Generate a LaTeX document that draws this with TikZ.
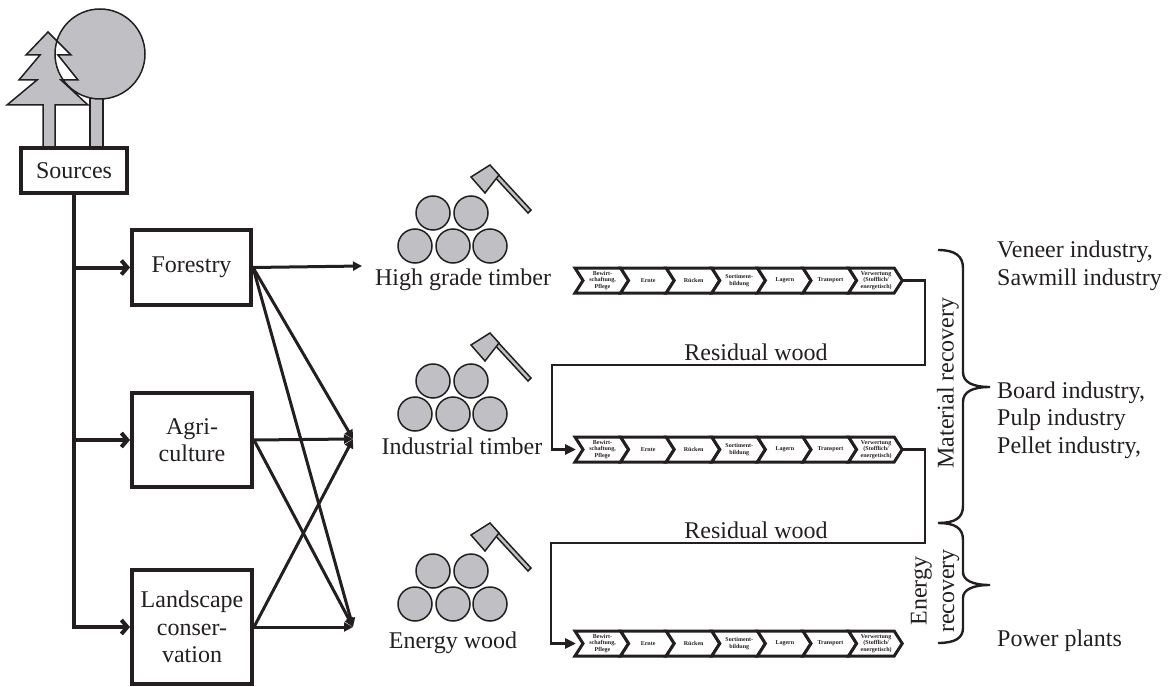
\documentclass[tikz,border=0pt]{standalone}
\usepackage{fontspec}
\setmainfont{Liberation Serif}
\usetikzlibrary{arrows.meta,calc}
\definecolor{ink}{RGB}{35,31,32}
\definecolor{wood}{RGB}{192,192,196}
\newcommand\woodpile[1]{%
  \filldraw[logfill] (433,#1) circle[radius=17] (471,#1) circle[radius=17]
    (415,#1+33) circle[radius=17] (453,#1+33) circle[radius=17] (490,#1+33) circle[radius=17];
  \filldraw[logfill] (492,#1-39) -- (495,#1-42) -- (531,#1-3) -- (528,#1) -- cycle;
  \filldraw[logfill] (471,#1-36) -- (490,#1-48) -- (499,#1-38) -- (485,#1-20) -- cycle;
}
\newcommand\chevrow[2]{%
  \foreach \t [count=\i from 0] in {{Bewirt-\\schaftung,\\Pflege},Ernte,R\"ucken,{Sortiment-\\bildung},Lagern,Transport,{Verwertung\\(Stofflich/\\energetisch)}}{
    \pgfmathsetmacro\xa{575+\i*45.6}
    \draw[chev] (\xa,#1) -- (\xa+45.6,#1) -- (\xa+53.6,#1+12.5) -- (\xa+45.6,#1+25) -- (\xa,#1+25) -- (\xa+8,#1+12.5) -- cycle;
    \node[chevtext] (#2c\i) at (\xa+27.5,#1+12.5) {\t};
  }
}
\begin{document}
\begin{tikzpicture}[x=1pt,y=-1pt,
  every node/.style={inner sep=0pt, text=ink, font=\fontsize{24}{27.5}\selectfont},
  box/.style={draw=ink, line width=4pt, fill=white, align=center},
  branch/.style={draw=ink, line width=4pt, -{Straight Barb[length=6pt,width=14pt]}},
  cross/.style={draw=ink, line width=3pt, -{Triangle[length=9pt,width=9pt]}},
  resid/.style={draw=ink, line width=2.8pt, line join=miter},
  residarrow/.style={resid, -{Triangle[length=11pt,width=10pt]}},
  chev/.style={draw=ink, fill=white, line width=3pt, line join=miter},
  chevtext/.style={font=\fontsize{6}{6.6}\selectfont\bfseries, align=center},
  logfill/.style={fill=wood, draw=ink, line width=1.5pt},
  bracestyle/.style={draw=ink, line width=2.4pt}]
\useasboundingbox (0,0) rectangle (1170,687);

% trees
\filldraw[logfill] (90,98) rectangle (103,148);
\filldraw[logfill, even odd rule] (48,32) -- (71,55) -- (58,55) -- (78,80) -- (61,80) -- (88,105) -- (55,105) -- (55,148)
  -- (43,148) -- (43,105) -- (7,105) -- (37,80) -- (19,80) -- (40,55) -- (26,55) -- cycle
  (100,54) circle[radius=45];

% source boxes
\node[box, minimum width=106pt, minimum height=45pt] (src) at (74,170.5) {Sources};
\node[box, minimum width=119pt, minimum height=75pt] (forest) at (191.5,267.5) {Forestry};
\node[box, minimum width=120pt, minimum height=94pt] (agri) at (192,440) {Agri-\\culture};
\node[box, minimum width=120pt, minimum height=114pt] (land) at (192,627) {Landscape\\conser-\\vation};

\draw[branch] (src.south) |- (land.west);
\draw[branch] (src.south |- forest.west) -- (forest.west);
\draw[branch] (src.south |- agri.west) -- (agri.west);

% targets
\coordinate (hg) at (362,266);
\coordinate (ind) at (353,439);
\coordinate (en) at (353,627);
\draw[cross] (forest.east) -- (hg);
\draw[cross] (forest.east) -- (ind);
\draw[cross] (forest.east) -- (en);
\draw[cross] (agri.east) -- (ind);
\draw[cross] (agri.east) -- (en);
\draw[cross] (land.east) -- (ind);
\draw[cross] (land.east) -- (en);

% wood piles
\woodpile{213}
\woodpile{381}
\woodpile{571}
\node (hgl) at (463,280) {High grade timber};
\node (indl) at (462,446) {Industrial timber};
\node (enl) at (453,643) {Energy wood};

% chevron rows
\chevrow{268}{ra}
\chevrow{437}{rb}
\chevrow{631}{rc}
\coordinate (r1out) at (902,280.5);
\coordinate (r2in) at (576,449.5);
\coordinate (r2out) at (902,449.5);
\coordinate (r3in) at (576,643.5);
\draw[residarrow] (r1out) -- (925,280.5) -- (925,365) -- (552,365) -- (552,449.5) -- (r2in);
\draw[residarrow] (r2out) -- (925,449.5) -- (925,543) -- (551,543) -- (551,643.5) -- (r3in);
\node[anchor=base] (res1) at (756,360) {Residual wood};
\node[anchor=base] (res2) at (756,538) {Residual wood};

% braces
\draw[bracestyle] (938,250) .. controls (955,250) and (963,256) .. (963,268) -- (963,372)
  .. controls (963,382) and (972,387) .. (990,387) .. controls (972,387) and (963,392) .. (963,402)
  -- (963,506) .. controls (963,518) and (955,523) .. (938,523);
\draw[bracestyle] (938,523) .. controls (955,523) and (963,528) .. (963,540) -- (963,572)
  .. controls (963,580) and (972,585) .. (990,585) .. controls (972,585) and (963,590) .. (963,598)
  -- (963,628) .. controls (963,638) and (955,643) .. (938,643);
\node[rotate=90] (matrec) at (948,383) {Material recovery};
\node[rotate=90, align=center] (enrec) at (935,591) {Energy\\recovery};

% uses
\node[anchor=west, align=left] (use1) at (997,266) {Veneer industry,\\Sawmill industry};
\node[anchor=west, align=left] (use2) at (997,420) {Board industry,\\Pulp industry\\Pellet industry,};
\node[anchor=west] (use3) at (997,641) {Power plants};
\end{tikzpicture}
\end{document}
